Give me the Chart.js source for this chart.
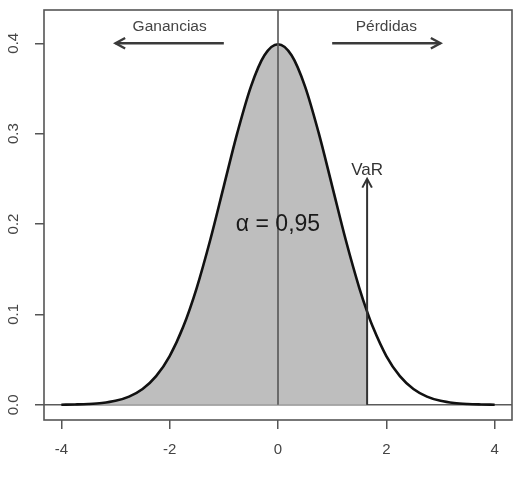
<!DOCTYPE html>
<html>
<head>
<meta charset="utf-8">
<script src="https://cdn.jsdelivr.net/npm/chart.js@4/dist/chart.umd.min.js"></script>
<style>
html,body{margin:0;padding:0;background:#fff;}
canvas{display:block;}
</style>
</head>
<body>
<canvas id="c" width="519" height="482"></canvas>
<script>
// ---- data ----
const xValues = [-4, -3.75, -3.5, -3.25, -3, -2.75, -2.5, -2.25, -2, -1.75, -1.5, -1.25, -1, -0.75, -0.5, -0.25,
                 0, 0.25, 0.5, 0.75, 1, 1.25, 1.5, 1.645, 1.75, 2, 2.25, 2.5, 2.75, 3, 3.25, 3.5, 3.75, 4];
const density = [0.0001, 0.0004, 0.0009, 0.0020, 0.0044, 0.0091, 0.0175, 0.0317, 0.0540, 0.0863, 0.1295, 0.1826, 0.2420, 0.3011, 0.3521, 0.3867,
                 0.3989, 0.3867, 0.3521, 0.3011, 0.2420, 0.1826, 0.1295, 0.1031, 0.0863, 0.0540, 0.0317, 0.0175, 0.0091, 0.0044, 0.0020, 0.0009, 0.0004, 0.0001];
const xTicks = [-4, -2, 0, 2, 4];
const yTicks = [0.0, 0.1, 0.2, 0.3, 0.4];
const yTickLabels = ['0.0', '0.1', '0.2', '0.3', '0.4'];
const varX = 1.645;        // VaR quantile
const varArrowTop = 0.25;  // arrow tip
const varLabel = 'VaR';
const alphaLabel = 'α = 0,95';
const alphaPos = [0, 0.2];
const gainArrow = [-1, -3, 0.4];   // from x, to x, y
const lossArrow = [1, 3, 0.4];
const gainLabel = 'Ganancias';
const lossLabel = 'Pérdidas';
const labelY = 0.418;
const xRange = [-4.32, 4.32];
const yRange = [-0.0168, 0.4368];

const curvePts = xValues.map((x, i) => ({x: x, y: density[i]}));
const fillPts = curvePts.filter(p => p.x <= varX);

const FONT = "'Liberation Sans', Arial, Helvetica, sans-serif";

function arrowHead(ctx, x1, y1, x2, y2, len, ang) {
  const a = Math.atan2(y2 - y1, x2 - x1);
  ctx.beginPath();
  ctx.moveTo(x2 - len * Math.cos(a - ang), y2 - len * Math.sin(a - ang));
  ctx.lineTo(x2, y2);
  ctx.lineTo(x2 - len * Math.cos(a + ang), y2 - len * Math.sin(a + ang));
  ctx.stroke();
}

const overlay = {
  id: 'overlay',
  beforeDatasetsDraw(chart) {
    const {ctx, chartArea: ca, scales: {x, y}} = chart;
    ctx.save();
    ctx.strokeStyle = '#5a5a5a';
    ctx.lineWidth = 1.5;
    ctx.beginPath();
    ctx.moveTo(ca.left, y.getPixelForValue(0));
    ctx.lineTo(ca.right, y.getPixelForValue(0));
    ctx.stroke();
    ctx.restore();
  },
  afterDatasetsDraw(chart) {
    const {ctx, chartArea: ca, scales: {x, y}} = chart;
    ctx.save();
    ctx.strokeStyle = '#555';
    ctx.lineWidth = 1.6;
    ctx.beginPath();
    ctx.moveTo(x.getPixelForValue(0), y.getPixelForValue(0));
    ctx.lineTo(x.getPixelForValue(0), ca.top);
    ctx.stroke();

    ctx.strokeStyle = '#333';
    ctx.lineWidth = 2;
    const vx = x.getPixelForValue(varX), vy0 = y.getPixelForValue(0), vy1 = y.getPixelForValue(varArrowTop);
    ctx.beginPath(); ctx.moveTo(vx, vy0); ctx.lineTo(vx, vy1); ctx.stroke();
    arrowHead(ctx, vx, vy0, vx, vy1, 10, 0.5);

    ctx.strokeStyle = '#3a3a3a';
    ctx.lineWidth = 2.4;
    [gainArrow, lossArrow].forEach(a => {
      const x1 = x.getPixelForValue(a[0]), x2 = x.getPixelForValue(a[1]), yy = y.getPixelForValue(a[2]);
      ctx.beginPath(); ctx.moveTo(x1, yy); ctx.lineTo(x2, yy); ctx.stroke();
      arrowHead(ctx, x1, yy, x2, yy, 11, 0.5);
    });

    ctx.textAlign = 'center';
    ctx.textBaseline = 'middle';
    ctx.fillStyle = '#444';
    ctx.font = '15.5px ' + FONT;
    ctx.fillText(gainLabel, x.getPixelForValue((gainArrow[0] + gainArrow[1]) / 2), y.getPixelForValue(labelY));
    ctx.fillText(lossLabel, x.getPixelForValue((lossArrow[0] + lossArrow[1]) / 2), y.getPixelForValue(labelY));

    ctx.fillStyle = '#333';
    ctx.font = '17px ' + FONT;
    ctx.fillText(varLabel, vx, y.getPixelForValue(varArrowTop) - 9);

    ctx.fillStyle = '#1a1a1a';
    ctx.font = '23px ' + FONT;
    ctx.fillText(alphaLabel, x.getPixelForValue(alphaPos[0]), y.getPixelForValue(alphaPos[1]) + 1);

    ctx.fillStyle = '#444';
    ctx.font = '15px ' + FONT;
    yTicks.forEach((v, i) => {
      ctx.save();
      ctx.translate(14, y.getPixelForValue(v));
      ctx.rotate(-Math.PI / 2);
      ctx.fillText(yTickLabels[i], 0, 0);
      ctx.restore();
    });
    ctx.restore();
  },
  afterDraw(chart) {
    const {ctx, chartArea: ca} = chart;
    ctx.save();
    ctx.strokeStyle = '#555';
    ctx.lineWidth = 1.6;
    ctx.strokeRect(ca.left, ca.top, ca.right - ca.left, ca.bottom - ca.top);
    ctx.restore();
  }
};

new Chart(document.getElementById('c'), {
  type: 'scatter',
  data: {
    datasets: [
      {
        data: curvePts, showLine: true, borderColor: '#111', borderWidth: 2.6,
        pointRadius: 0, fill: false, cubicInterpolationMode: 'monotone'
      },
      {
        data: fillPts, showLine: true, borderWidth: 0, borderColor: 'rgba(0,0,0,0)',
        backgroundColor: '#bebebe', pointRadius: 0, fill: 'origin', cubicInterpolationMode: 'monotone'
      }
    ]
  },
  options: {
    responsive: false,
    animation: false,
    devicePixelRatio: 1,
    layout: {padding: {top: 10, right: 7, left: 0, bottom: 0}},
    plugins: {legend: {display: false}, tooltip: {enabled: false}},
    scales: {
      x: {
        type: 'linear', min: xRange[0], max: xRange[1],
        afterBuildTicks: s => { s.ticks = xTicks.map(v => ({value: v})); },
        afterFit: s => { s.height = 62; },
        grid: {drawOnChartArea: false, drawTicks: true, tickLength: 9, color: '#555', lineWidth: 1.5},
        border: {display: false},
        ticks: {
          color: '#444', font: {size: 15, family: FONT}, padding: 12,
          maxRotation: 0, minRotation: 0,
          callback: v => String(v)
        }
      },
      y: {
        type: 'linear', min: yRange[0], max: yRange[1],
        afterBuildTicks: s => { s.ticks = yTicks.map(v => ({value: v})); },
        afterFit: s => { s.width = 44; },
        grid: {drawOnChartArea: false, drawTicks: true, tickLength: 9, color: '#555', lineWidth: 1.5},
        border: {display: false},
        ticks: {display: false}
      }
    }
  },
  plugins: [overlay]
});
</script>
</body>
</html>
